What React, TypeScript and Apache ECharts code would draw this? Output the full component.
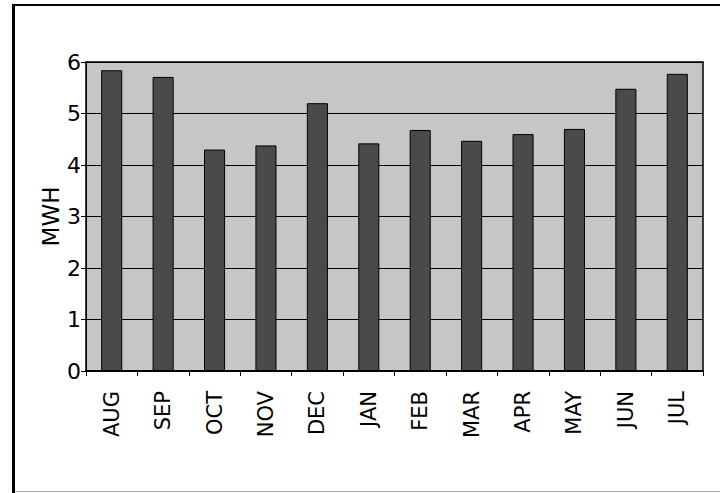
import React, { useEffect, useRef } from "react";
import * as echarts from "echarts";

const months = ["AUG", "SEP", "OCT", "NOV", "DEC", "JAN", "FEB", "MAR", "APR", "MAY", "JUN", "JUL"];
const mwh = [5.84, 5.71, 4.3, 4.38, 5.2, 4.42, 4.68, 4.47, 4.6, 4.7, 5.48, 5.77];
const yTicks = [0, 1, 2, 3, 4, 5, 6];

const FONT = "DejaVu Sans, Liberation Sans, Arial, sans-serif";

export default function App() {
  const ref = useRef<HTMLDivElement>(null);
  useEffect(() => {
    if (!ref.current) return;
    const chart = echarts.init(ref.current, undefined, { renderer: "svg" });
    chart.setOption({
      animation: false,
      backgroundColor: "#ffffff",
      graphic: [
        { type: "rect", shape: { x: 12, y: 4, width: 3, height: 489 }, style: { fill: "#000" } },
        { type: "rect", shape: { x: 12, y: 4, width: 708, height: 2 }, style: { fill: "#000" } },
        { type: "rect", shape: { x: 15, y: 491, width: 705, height: 1 }, style: { fill: "#aaa" } },
      ],
      grid: {
        left: 86,
        right: 17,
        top: 62,
        bottom: 122,
        show: true,
        backgroundColor: "#c6c6c6",
        borderColor: "#000",
        borderWidth: 1.5,
      },
      xAxis: {
        type: "category",
        data: months,
        axisLine: { show: true, lineStyle: { color: "#000", width: 2 } },
        axisTick: { show: true, length: 5, lineStyle: { color: "#000" } },
        axisLabel: {
          rotate: 90,
          margin: 20,
          color: "#000",
          fontFamily: FONT,
          fontSize: 21,
        },
      },
      yAxis: {
        type: "value",
        min: yTicks[0],
        max: yTicks[yTicks.length - 1],
        interval: 1,
        name: "MWH",
        nameLocation: "middle",
        nameGap: 24,
        nameMoveOverlap: false,
        nameRotate: 90,
        nameTextStyle: { color: "#000", fontFamily: FONT, fontSize: 23 },
        axisLine: { show: true, lineStyle: { color: "#000", width: 1 } },
        axisTick: { show: true, length: 5, lineStyle: { color: "#000" } },
        axisLabel: {
          margin: 5,
          color: "#000",
          fontFamily: FONT,
          fontSize: 22,
        },
        splitLine: { show: true, lineStyle: { color: "#000", width: 1 } },
      },
      series: [
        {
          type: "bar",
          data: mwh,
          barWidth: "41%",
          itemStyle: { color: "#4a4a4a", borderColor: "#000", borderWidth: 1 },
        },
      ],
    });
    return () => chart.dispose();
  }, []);
  return <div ref={ref} style={{ width: 720, height: 493, position: "fixed", left: 0, top: 0 }} />;
}
